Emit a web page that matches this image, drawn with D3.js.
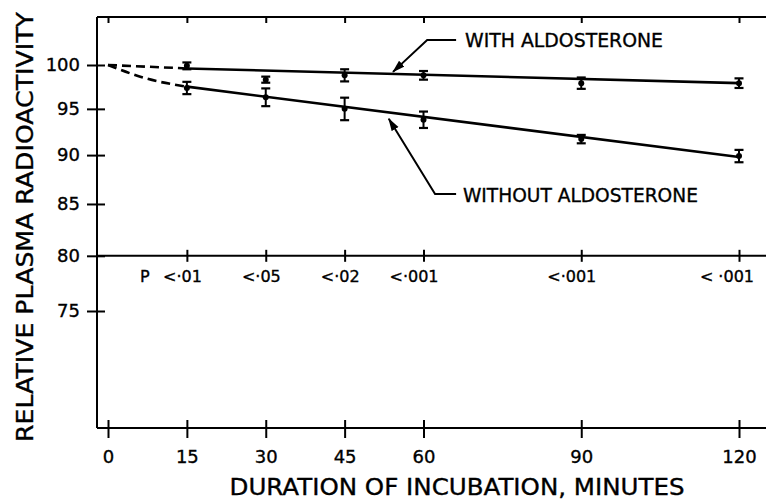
<!DOCTYPE html>
<html>
<head>
<meta charset="utf-8">
<script src="https://cdn.jsdelivr.net/npm/d3@7"></script>
<style>
	body { margin: 0; background: #fff; }
	svg { display: block; }
	text { font-family: "DejaVu Sans", sans-serif; fill: #000; stroke: #000; stroke-width: 0.35; }
</style>
</head>
<body>
<svg id="chart" width="766" height="503"></svg>
<script>
// ****** Data
var times = [15, 30, 45, 60, 90, 120];
var withMean = [99.9, 98.3, 98.8, 98.8, 97.9, 97.9];
var withErr = [0.4, 0.35, 0.7, 0.5, 0.65, 0.55];
var withoutMean = [97.35, 96.3, 95.0, 93.8, 91.7, 89.9];
var withoutErr = [0.7, 1.0, 1.25, 0.9, 0.45, 0.65];

// fitted lines (solid) and the dashed run-in from time 0
var withFit = [[15, 99.6], [120, 97.9]];
var withoutFit = [[15, 97.5], [120, 89.8]];
var withDash = [[0, 100], [15, 99.6]];
var withoutDash = [[0, 100], [7.5, 98.4], [15, 97.5]];

var xTicks = [0, 15, 30, 45, 60, 90, 120];
var yTicks = [75, 80, 85, 90, 95, 100];
var pLabels = ['<·01', '<·05', '<·02', '<·001', '<·001', '< ·001'];

// annotation leaders, in minutes / percent
var withArrow = [[66.2, 102.97], [60.7, 102.97], [54.2, 99.2]];
var withoutArrow = [[66.2, 86.0], [62.2, 86.0], [53.4, 93.9]];
var withLabelAt = [67.9, 102.1];
var withoutLabelAt = [67.5, 85.2];

// ****** Layout
var frame = { left: 97, top: 17, bottom: 428, right: 766 };
var svg = d3.select('#chart');

var x = d3.scaleLinear().domain([0, 120]).range([108, 739]);
var y = d3.scaleLog().domain([75, 100]).range([311, 65]);   // the ordinate is logarithmic

svg.append('defs').append('marker')
	.attr('id', 'head')
	.attr('markerUnits', 'userSpaceOnUse')
	.attr('markerWidth', 14).attr('markerHeight', 10)
	.attr('refX', 12).attr('refY', 4)
	.attr('orient', 'auto')
	.append('path').attr('d', 'M0,0 L13,4 L0,8 Z').attr('fill', '#000');

// frame lines
var frameLines = [
	[frame.left, frame.top, frame.left, frame.bottom],
	[frame.left, frame.top, frame.right, frame.top],
	[frame.left, frame.bottom, frame.right, frame.bottom],
	[frame.left, y(80), frame.right, y(80)]
];
svg.selectAll('line.frame').data(frameLines).enter().append('line')
	.attr('class', 'frame')
	.attr('x1', function(d) { return d[0]; }).attr('y1', function(d) { return d[1]; })
	.attr('x2', function(d) { return d[2]; }).attr('y2', function(d) { return d[3]; })
	.attr('stroke', '#000').attr('stroke-width', 2);

// left axis
var yAxisG = svg.append('g').attr('transform', 'translate(' + frame.left + ',0)')
	.call(d3.axisLeft(y).tickValues(yTicks).tickFormat(d3.format('d')).tickSize(10).tickPadding(7));
yAxisG.select('.domain').remove();
yAxisG.attr('font-family', null).attr('font-size', 18);
yAxisG.selectAll('.tick line').attr('x1', 8).attr('x2', -10).attr('stroke-width', 2);

// bottom axis
var xAxisG = svg.append('g').attr('transform', 'translate(0,' + frame.bottom + ')')
	.call(d3.axisBottom(x).tickValues(xTicks).tickSize(10));
xAxisG.select('.domain').remove();
xAxisG.attr('font-family', null).attr('font-size', 18);
xAxisG.selectAll('.tick line').attr('y1', -8).attr('y2', 10).attr('stroke-width', 2);
xAxisG.selectAll('.tick text').attr('y', 35).attr('dy', 0);

// top ticks
var topG = svg.append('g').attr('transform', 'translate(0,' + frame.top + ')')
	.call(d3.axisBottom(x).tickValues(xTicks).tickSize(6).tickFormat(''));
topG.select('.domain').remove();
topG.selectAll('.tick line').attr('stroke-width', 2);

// ticks on the 80 line, with P values under them
var midG = svg.append('g').attr('transform', 'translate(0,' + y(80) + ')')
	.call(d3.axisBottom(x).tickValues(times).tickSize(6).tickFormat(''));
midG.select('.domain').remove();
midG.selectAll('.tick line').attr('y1', -6).attr('stroke-width', 2);

svg.selectAll('text.pval').data(times).enter().append('text')
	.attr('class', 'pval')
	.attr('x', function(d) { return x(d) + 15; })
	.attr('y', y(80) + 26)
	.attr('text-anchor', 'end')
	.attr('font-size', 16)
	.text(function(d, i) { return pLabels[i]; });
svg.append('text').attr('x', x(7)).attr('y', y(80) + 26)
	.attr('text-anchor', 'middle').attr('font-size', 16).text('P');

// lines
var line = d3.line().x(function(d) { return x(d[0]); }).y(function(d) { return y(d[1]); });
var curved = d3.line().curve(d3.curveNatural).x(function(d) { return x(d[0]); }).y(function(d) { return y(d[1]); });

[withFit, withoutFit].forEach(function(s) {
	svg.append('path').attr('d', line(s)).attr('fill', 'none')
		.attr('stroke', '#000').attr('stroke-width', 2.6);
});
[withDash, withoutDash].forEach(function(s) {
	svg.append('path').attr('d', curved(s)).attr('fill', 'none')
		.attr('stroke', '#000').attr('stroke-width', 2.6).attr('stroke-dasharray', '9,5');
});

// error bars + points
function drawSeries(mean, err) {
	var g = svg.append('g');
	var pts = times.map(function(t, i) { return { t: t, m: mean[i], e: err[i] }; });
	var p = g.selectAll('g').data(pts).enter().append('g');
	p.append('line')
		.attr('x1', function(d) { return x(d.t); }).attr('x2', function(d) { return x(d.t); })
		.attr('y1', function(d) { return y(d.m - d.e); }).attr('y2', function(d) { return y(d.m + d.e); })
		.attr('stroke', '#000').attr('stroke-width', 2);
	[-1, 1].forEach(function(s) {
		p.append('line')
			.attr('x1', function(d) { return x(d.t) - 4.5; }).attr('x2', function(d) { return x(d.t) + 4.5; })
			.attr('y1', function(d) { return y(d.m + s * d.e); }).attr('y2', function(d) { return y(d.m + s * d.e); })
			.attr('stroke', '#000').attr('stroke-width', 2.2);
	});
	p.append('circle')
		.attr('cx', function(d) { return x(d.t); }).attr('cy', function(d) { return y(d.m); })
		.attr('r', 3).attr('fill', '#000');
}
drawSeries(withMean, withErr);
drawSeries(withoutMean, withoutErr);

// annotations
[withArrow, withoutArrow].forEach(function(a) {
	svg.append('path').attr('d', line(a)).attr('fill', 'none')
		.attr('stroke', '#000').attr('stroke-width', 2).attr('marker-end', 'url(#head)');
});
svg.append('text').attr('x', x(withLabelAt[0])).attr('y', y(withLabelAt[1]))
	.attr('font-size', 19).attr('textLength', 198).attr('lengthAdjust', 'spacingAndGlyphs')
	.text('WITH ALDOSTERONE');
svg.append('text').attr('x', x(withoutLabelAt[0])).attr('y', y(withoutLabelAt[1]))
	.attr('font-size', 19).attr('textLength', 235).attr('lengthAdjust', 'spacingAndGlyphs')
	.text('WITHOUT ALDOSTERONE');

// axis titles
svg.append('text').attr('x', 457).attr('y', 495).attr('text-anchor', 'middle')
	.attr('font-size', 23).attr('textLength', 455).attr('lengthAdjust', 'spacingAndGlyphs')
	.text('DURATION OF INCUBATION, MINUTES');
svg.append('text').attr('transform', 'translate(33,227) rotate(-90)').attr('text-anchor', 'middle')
	.attr('font-size', 23).attr('textLength', 430).attr('lengthAdjust', 'spacingAndGlyphs')
	.text('RELATIVE PLASMA RADIOACTIVITY');
</script>
</body>
</html>
